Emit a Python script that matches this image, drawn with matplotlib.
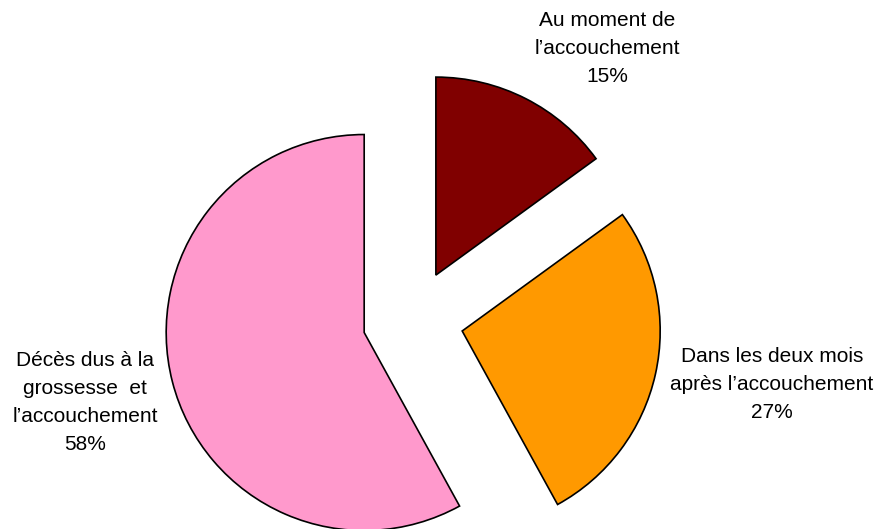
import matplotlib.pyplot as plt

plt.rcParams['font.family'] = ['Liberation Sans', 'DejaVu Sans']

# données
labels = ["Au moment de\nl\u2019accouchement\n15%",
          "Dans les deux mois\naprès l\u2019accouchement\n27%",
          "Décès dus à la\ngrossesse  et\nl\u2019accouchement\n58%"]
values = [15, 27, 58]
colors = ['#800000', '#FF9900', '#FF99CC']

fig = plt.figure(figsize=(8.8, 5.29), dpi=100)
ax = fig.add_axes([0, 0, 1, 1])

# explode en unités absolues (rayon 198)
ax.pie(values, colors=colors, explode=[50.4, 50.4, 50.4], startangle=90,
       counterclock=False, center=(413, 209), radius=198, frame=True,
       wedgeprops=dict(edgecolor='black', linewidth=1.2))
ax.set_xlim(0, 880)
ax.set_ylim(0, 529)
ax.axis('off')

# étiquettes
label_pos = [(607, 529 - 49), (772, 529 - 385), (85, 529 - 402)]
for txt, (x, y) in zip(labels, label_pos):
    ax.text(x, y, txt, ha='center', va='center', fontsize=15,
            linespacing=1.6, color='black')

fig.savefig('out.png', dpi=100)
